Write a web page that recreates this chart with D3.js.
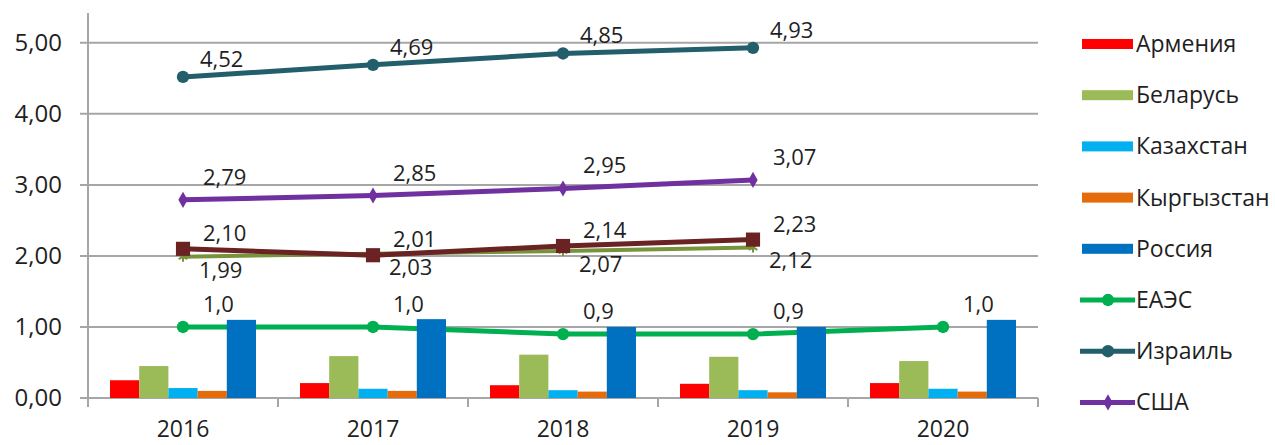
<!DOCTYPE html>
<html>
<head>
<meta charset="utf-8">
<script src="https://cdn.jsdelivr.net/npm/d3@7"></script>
<style>
  body { margin: 0; background: #fff; }
  text { font-family: "Open Sans", sans-serif; fill: #1f1f1f; }
</style>
</head>
<body>
<svg width="1275" height="445"></svg>
<script>
var years = ["2016", "2017", "2018", "2019", "2020"];
var yTicks = [0, 1, 2, 3, 4, 5];

// bar series
var barNames = ["Армения", "Беларусь", "Казахстан", "Кыргызстан", "Россия"];
var armenia    = [0.25, 0.21, 0.18, 0.20, 0.21];
var belarus    = [0.45, 0.59, 0.61, 0.58, 0.52];
var kazakhstan = [0.14, 0.13, 0.11, 0.11, 0.13];
var kyrgyzstan = [0.10, 0.10, 0.09, 0.08, 0.09];
var russia     = [1.10, 1.11, 1.00, 1.00, 1.10];

// line series
var eaeu   = [1.0, 1.0, 0.9, 0.9, 1.0];
var israel = [4.52, 4.69, 4.85, 4.93, null];
var usa    = [2.79, 2.85, 2.95, 3.07, null];
var brownLine = [2.10, 2.01, 2.14, 2.23, null];   // series not shown in legend
var oliveLine = [1.99, 2.03, 2.07, 2.12, null];   // series not shown in legend

var barColors = ["#ff0000", "#9bbb59", "#00b0f0", "#e46c0a", "#0070c0"];

var lines = [
  {name: "oliveLine", values: oliveLine, color: "#77933c", width: 4, marker: "star", digits: 2, dx: 16, dy: 21, legend: false},
  {name: "brownLine", values: brownLine, color: "#6a2222", width: 5, marker: "square", digits: 2, dx: 20, dy: -8, legend: false},
  {name: "ЕАЭС", values: eaeu, color: "#00b050", width: 5, marker: "circle", digits: 1, dx: 20, dy: -15, legend: true},
  {name: "Израиль", values: israel, color: "#235e6b", width: 5, marker: "circle", digits: 2, dx: 17, dy: -10, legend: true},
  {name: "США", values: usa, color: "#7030a0", width: 5, marker: "diamond", digits: 2, dx: 20, dy: -15, legend: true}
];

var barData = [armenia, belarus, kazakhstan, kyrgyzstan, russia];

var svg = d3.select("svg");

var x = d3.scaleBand().domain(years).range([88, 1038]);
var y = d3.scaleLinear().domain([0, 5.42]).range([398, 13]);

var inner = d3.scaleBand()
  .domain(barNames)
  .range([22, x.bandwidth() - 22]);

var fmt = function(v, digits) { return v.toFixed(digits).replace(".", ","); };

// gridlines
svg.append("g")
  .selectAll("line")
  .data(yTicks)
  .enter().append("line")
  .attr("x1", 80)
  .attr("x2", 1038)
  .attr("y1", function(d) { return y(d); })
  .attr("y2", function(d) { return y(d); })
  .attr("stroke", "#a6a6a6")
  .attr("stroke-width", 2);

// y axis line
svg.append("line")
  .attr("x1", 88).attr("x2", 88)
  .attr("y1", y(5.42)).attr("y2", 407)
  .attr("stroke", "#a6a6a6")
  .attr("stroke-width", 2);

// x axis ticks at category boundaries
var bounds = years.map(function(d) { return x(d); }).concat([x.range()[1]]);
svg.append("g")
  .selectAll("line")
  .data(bounds)
  .enter().append("line")
  .attr("x1", function(d) { return d; })
  .attr("x2", function(d) { return d; })
  .attr("y1", y(0))
  .attr("y2", y(0) + 9)
  .attr("stroke", "#a6a6a6")
  .attr("stroke-width", 2);

// y tick labels
svg.append("g")
  .selectAll("text")
  .data(yTicks)
  .enter().append("text")
  .attr("x", 62)
  .attr("y", function(d) { return y(d); })
  .attr("dy", "0.35em")
  .attr("text-anchor", "end")
  .style("font-size", "24px")
  .text(function(d) { return fmt(d, 2); });

// x tick labels
svg.append("g")
  .selectAll("text")
  .data(years)
  .enter().append("text")
  .attr("x", function(d) { return x(d) + x.bandwidth() / 2; })
  .attr("y", 437)
  .attr("text-anchor", "middle")
  .style("font-size", "23px")
  .text(function(d) { return d; });

function markerPath(type) {
  if (type == "circle") return d3.symbol(d3.symbolCircle, 120)();
  if (type == "diamond") return d3.symbol(d3.symbolDiamond, 75)();
  if (type == "square") return d3.symbol(d3.symbolSquare, 200)();
  return d3.symbol(d3.symbolAsterisk, 70)();
}

var line = d3.line()
  .defined(function(d) { return d.v != null; })
  .x(function(d) { return x(d.year) + x.bandwidth() / 2; })
  .y(function(d) { return y(d.v); });

// lines (drawn under the bars)
lines.forEach(function(s) {
  var pts = years.map(function(yr, i) { return {year: yr, v: s.values[i]}; });
  svg.append("path")
    .datum(pts)
    .attr("d", line)
    .attr("fill", "none")
    .attr("stroke", s.color)
    .attr("stroke-width", s.width)
    .attr("stroke-linejoin", "round");

  svg.append("g")
    .selectAll("path")
    .data(pts.filter(function(d) { return d.v != null; }))
    .enter().append("path")
    .attr("transform", function(d) {
      return "translate(" + (x(d.year) + x.bandwidth() / 2) + "," + y(d.v) + ")";
    })
    .attr("d", markerPath(s.marker))
    .attr("fill", s.marker == "star" ? "none" : s.color)
    .attr("stroke", s.color)
    .attr("stroke-width", s.marker == "star" ? 2 : 0);
});

// bars
barData.forEach(function(vals, k) {
  svg.append("g")
    .selectAll("rect")
    .data(vals)
    .enter().append("rect")
    .attr("x", function(d, i) { return x(years[i]) + inner(barNames[k]); })
    .attr("width", inner.bandwidth())
    .attr("y", function(d) { return y(d); })
    .attr("height", function(d) { return y(0) - y(d); })
    .attr("fill", barColors[k]);
});

// data labels
lines.forEach(function(s) {
  svg.append("g")
    .selectAll("text")
    .data(years.map(function(yr, i) { return {year: yr, v: s.values[i]}; })
      .filter(function(d) { return d.v != null; }))
    .enter().append("text")
    .attr("x", function(d) { return x(d.year) + x.bandwidth() / 2 + s.dx; })
    .attr("y", function(d) { return y(d.v) + s.dy; })
    .style("font-size", "22px")
    .text(function(d) { return fmt(d.v, s.digits); });
});

// legend
var legendItems = barNames.map(function(n, i) { return {name: n, color: barColors[i], bar: true}; })
  .concat(lines.filter(function(s) { return s.legend; })
    .map(function(s) { return {name: s.name, color: s.color, bar: false, marker: s.marker}; }));

var legend = svg.append("g")
  .selectAll("g")
  .data(legendItems)
  .enter().append("g")
  .attr("transform", function(d, i) { return "translate(0," + (44 + i * 51.2) + ")"; });

legend.filter(function(d) { return d.bar; })
  .append("rect")
  .attr("x", 1082)
  .attr("y", -5)
  .attr("width", 51)
  .attr("height", 10)
  .attr("fill", function(d) { return d.color; });

legend.filter(function(d) { return !d.bar; })
  .append("line")
  .attr("x1", 1080).attr("x2", 1135)
  .attr("y1", 0).attr("y2", 0)
  .attr("stroke", function(d) { return d.color; })
  .attr("stroke-width", 5);

legend.filter(function(d) { return !d.bar; })
  .append("path")
  .attr("transform", "translate(1108,0)")
  .attr("d", function(d) { return markerPath(d.marker); })
  .attr("fill", function(d) { return d.color; });

legend.append("text")
  .attr("x", 1136)
  .attr("dy", "0.35em")
  .style("font-size", "23px")
  .text(function(d) { return d.name; });
</script>
</body>
</html>
